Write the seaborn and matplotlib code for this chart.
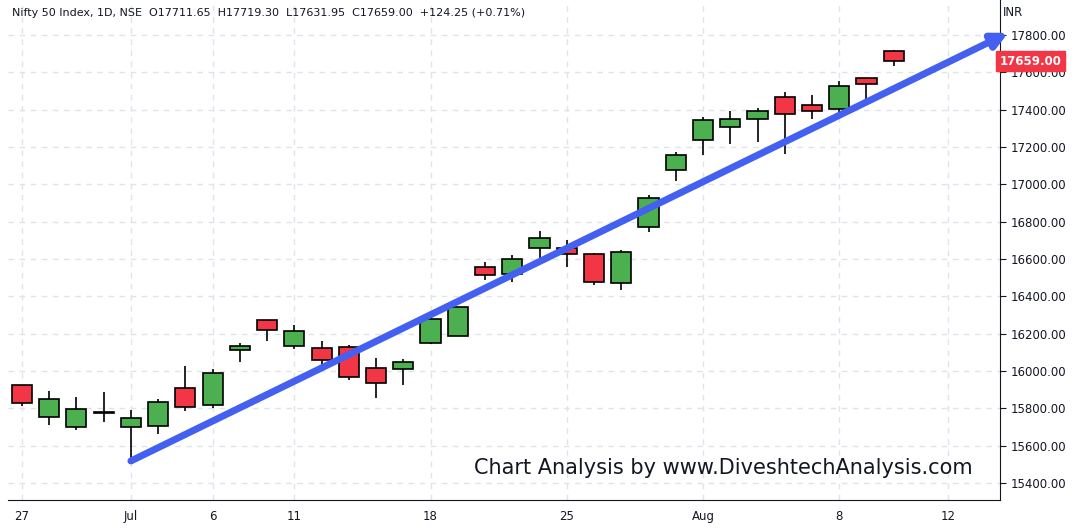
import numpy as np
import pandas as pd
import matplotlib.pyplot as plt
import seaborn as sns

# daily OHLC, Nifty 50 (Jun 27 - Aug 11)
dates = ["06-27", "06-28", "06-29", "06-30", "07-01", "07-04", "07-05", "07-06", "07-07", "07-08",
         "07-11", "07-12", "07-13", "07-14", "07-15", "07-18", "07-19", "07-20", "07-21", "07-22",
         "07-25", "07-26", "07-27", "07-28", "07-29", "08-01", "08-02", "08-03", "08-04", "08-05",
         "08-08", "08-10", "08-11"]
opens = [15924, 15751, 15698, 15776, 15698, 15708, 15908, 15816, 16112, 16274,
         16134, 16123, 16128, 16015, 16010, 16150, 16187, 16556, 16518, 16658,
         16658, 16626, 16470, 16771, 17078, 17239, 17309, 17347, 17465, 17422,
         17401, 17568, 17711.65]
highs = [15927, 15893, 15861, 15888, 15791, 15848, 16028, 16010, 16152, 16274,
         16248, 16162, 16139, 16071, 16064, 16287, 16345, 16585, 16622, 16751,
         16703, 16631, 16649, 16943, 17171, 17358, 17392, 17408, 17494, 17478,
         17553, 17568, 17719.30]
lows = [15812, 15710, 15683, 15728, 15513, 15663, 15787, 15802, 16046, 16159,
        16116, 16033, 15954, 15857, 15927, 16144, 16185, 16488, 16479, 16606,
        16558, 16463, 16436, 16742, 17017, 17155, 17216, 17227, 17162, 17351,
        17388, 17456, 17631.95]
closes = [15827, 15848, 15795, 15780, 15746, 15832, 15805, 15988, 16135, 16220,
          16214, 16058, 15967, 15934, 16048, 16279, 16344, 16513, 16599, 16712,
          16626, 16475, 16637, 16927, 17159, 17342, 17347, 17390, 17379, 17395,
          17525, 17535, 17659.00]

tick_pos = [0, 4, 7, 10, 15, 20, 25, 30, 34]
tick_labels = ["27", "Jul", "6", "11", "18", "25", "Aug", "8", "12"]
price_ticks = list(range(15400, 17801, 200))

# trend arrow endpoints (bar index, price)
arrow_start = (4, 15518)
arrow_end = (36.2, 17811)

df = pd.DataFrame({"date": dates, "open": opens, "high": highs, "low": lows, "close": closes})
df["i"] = np.arange(len(df))
df["up"] = df["close"] >= df["open"]

sns.set_style("white")
fig = plt.figure(figsize=(10.78, 5.3), dpi=100)
ax = fig.add_axes([8 / 1078, 30 / 530, 992 / 1078, 500 / 530])

green, red = "#4caf50", "#f23645"
for x in tick_pos:
    ax.axvline(x, color="#e0e3eb", ls=(0, (4, 4)), lw=1, zorder=0)
for y in price_ticks:
    ax.axhline(y, color="#e0e3eb", ls=(0, (4, 4)), lw=1, zorder=0)

ax.vlines(df["i"], df["low"], df["high"], color="black", lw=1.2, zorder=2)
bottoms = df[["open", "close"]].min(axis=1)
heights = (df["close"] - df["open"]).abs().clip(lower=4)
ax.bar(df["i"], heights, bottom=bottoms, width=0.74,
       color=np.where(df["up"], green, red), edgecolor="black", lw=1.2, zorder=3)

ax.annotate("", xy=arrow_end, xytext=arrow_start, zorder=4,
            arrowprops=dict(arrowstyle="-|>,head_length=0.9,head_width=0.45",
                            color="#4460f0", lw=5, shrinkA=0, shrinkB=0),
            annotation_clip=False)

ax.set_xlim(-0.51, 35.9)
ax.set_ylim(15309, 17987)
ax.set_xticks(tick_pos, tick_labels)
ax.yaxis.tick_right()
ax.set_yticks(price_ticks, [f"{p:.2f}" for p in price_ticks])
ax.tick_params(axis="both", labelsize=8.5, colors="#131722", length=4, color="#131722")
for s in ["top", "left"]:
    ax.spines[s].set_visible(False)
for s in ["right", "bottom"]:
    ax.spines[s].set_color("#131722")

ax.text(1.003, 0.975, "INR", transform=ax.transAxes, fontsize=8.5, color="#131722", va="center")
last = closes[-1]
ax.text(1.0, last, f"{last:.2f}", transform=ax.get_yaxis_transform(), fontsize=8.5,
        color="white", fontweight="bold", va="center", ha="left",
        bbox=dict(boxstyle="square,pad=0.3", fc=red, ec=red))
ax.text(0.004, 0.985, "Nifty 50 Index, 1D, NSE  O17711.65  H17719.30  L17631.95  C17659.00  +124.25 (+0.71%)",
        transform=ax.transAxes, fontsize=8, color="#131722", va="top")
ax.text(0.972, 0.065, "Chart Analysis by www.DiveshtechAnalysis.com", transform=ax.transAxes,
        fontsize=15, color="#131722", ha="right", va="center", zorder=5)

fig.savefig("out.png", dpi=100)
